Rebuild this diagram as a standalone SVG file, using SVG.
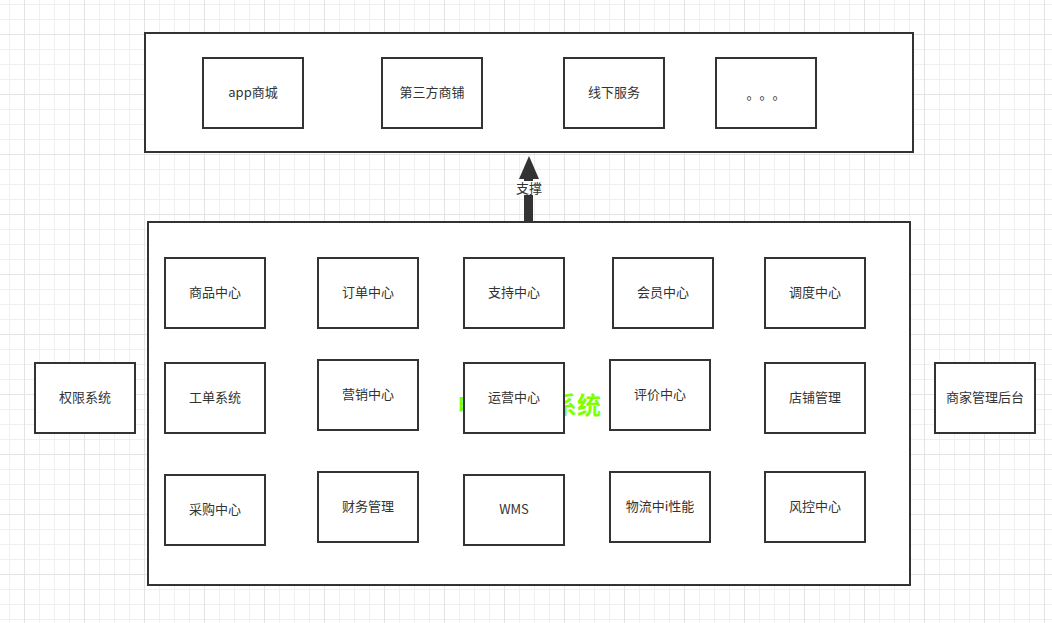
<svg xmlns="http://www.w3.org/2000/svg" width="1052" height="623" viewBox="0 0 1052 623">
<defs>
<pattern id="grid" x="24" y="34" width="60" height="60" patternUnits="userSpaceOnUse">
<rect x="15" y="0" width="1" height="60" fill="#f0f0f0"/>
<rect x="30" y="0" width="1" height="60" fill="#f0f0f0"/>
<rect x="45" y="0" width="1" height="60" fill="#f0f0f0"/>
<rect x="0" y="15" width="60" height="1" fill="#f0f0f0"/>
<rect x="0" y="30" width="60" height="1" fill="#f0f0f0"/>
<rect x="0" y="45" width="60" height="1" fill="#f0f0f0"/>
<rect x="0" y="0" width="1" height="60" fill="#e4e4e4"/>
<rect x="0" y="0" width="60" height="1" fill="#e4e4e4"/>
</pattern>
<style>
.box{fill:#ffffff;stroke:#333333;stroke-width:2}
.lbl{font-family:"Noto Sans CJK SC","Liberation Sans",sans-serif;font-size:13px;fill:#333333;text-anchor:middle;dominant-baseline:central}
.dot{font-family:"Noto Sans CJK SC","Liberation Sans",sans-serif;font-size:13px;fill:#333333;text-anchor:middle}
.big{font-family:"Noto Sans CJK SC","Liberation Sans",sans-serif;font-size:24px;font-weight:bold;fill:#80ff00;text-anchor:middle;dominant-baseline:central}
</style>
</defs>
<rect width="1052" height="623" fill="#ffffff"/>
<rect width="1052" height="623" fill="url(#grid)"/>

<g id="channels">
<rect class="box" x="145" y="33" width="768" height="119"/>
</g>
<g id="app"><rect class="box" x="203" y="58" width="100" height="70"/><text class="lbl" x="253" y="91">app商城</text></g>
<g id="third"><rect class="box" x="382" y="58" width="100" height="70"/><text class="lbl" x="432" y="91">第三方商铺</text></g>
<g id="offline"><rect class="box" x="564" y="58" width="100" height="70"/><text class="lbl" x="614" y="91">线下服务</text></g>
<g id="more"><rect class="box" x="716" y="58" width="100" height="70"/><text class="dot" x="753 766 779" y="99">。。。</text></g>

<g id="connectors">
<rect x="524" y="178" width="9" height="44" fill="#333333"/>
<polygon points="519,179 539,179 529,156" fill="#333333"/>
<rect x="515" y="181" width="28" height="14" fill="#ffffff"/>
<text class="lbl" x="529" y="187">支撑</text>
</g>

<g id="middle-platform">
<rect class="box" x="148" y="222" width="762" height="363"/>
<text class="big" x="529" y="403">电商中台系统</text>
</g>

<g id="n1"><rect class="box" x="165" y="258" width="100" height="70"/><text class="lbl" x="215" y="291">商品中心</text></g>
<g id="n2"><rect class="box" x="318" y="258" width="100" height="70"/><text class="lbl" x="368" y="291">订单中心</text></g>
<g id="n3"><rect class="box" x="464" y="258" width="100" height="70"/><text class="lbl" x="514" y="291">支持中心</text></g>
<g id="n4"><rect class="box" x="613" y="258" width="100" height="70"/><text class="lbl" x="663" y="291">会员中心</text></g>
<g id="n5"><rect class="box" x="765" y="258" width="100" height="70"/><text class="lbl" x="815" y="291">调度中心</text></g>

<g id="n6"><rect class="box" x="165" y="363" width="100" height="70"/><text class="lbl" x="215" y="396">工单系统</text></g>
<g id="n7"><rect class="box" x="318" y="360" width="100" height="70"/><text class="lbl" x="368" y="393">营销中心</text></g>
<g id="n8"><rect class="box" x="464" y="363" width="100" height="70"/><text class="lbl" x="514" y="396">运营中心</text></g>
<g id="n9"><rect class="box" x="610" y="360" width="100" height="70"/><text class="lbl" x="660" y="393">评价中心</text></g>
<g id="n10"><rect class="box" x="765" y="363" width="100" height="70"/><text class="lbl" x="815" y="396">店铺管理</text></g>

<g id="n11"><rect class="box" x="165" y="475" width="100" height="70"/><text class="lbl" x="215" y="508">采购中心</text></g>
<g id="n12"><rect class="box" x="318" y="472" width="100" height="70"/><text class="lbl" x="368" y="505">财务管理</text></g>
<g id="n13"><rect class="box" x="464" y="475" width="100" height="70"/><text class="lbl" x="514" y="508">WMS</text></g>
<g id="n14"><rect class="box" x="610" y="472" width="100" height="70"/><text class="lbl" x="660" y="505">物流中i性能</text></g>
<g id="n15"><rect class="box" x="765" y="472" width="100" height="70"/><text class="lbl" x="815" y="505">风控中心</text></g>

<g id="auth"><rect class="box" x="35" y="363" width="100" height="70"/><text class="lbl" x="85" y="396">权限系统</text></g>
<g id="merchant"><rect class="box" x="935" y="363" width="100" height="70"/><text class="lbl" x="985" y="396">商家管理后台</text></g>
</svg>
